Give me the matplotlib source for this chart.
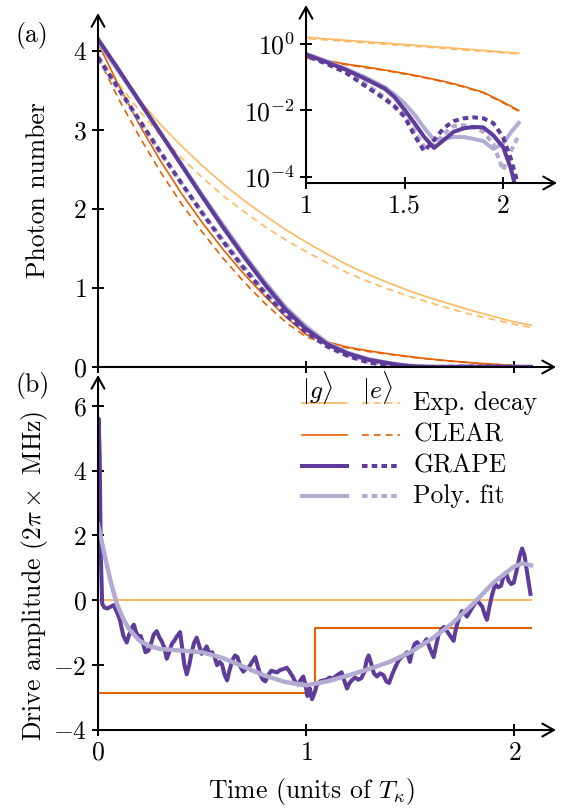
import matplotlib
matplotlib.use("Agg")
import matplotlib.pyplot as plt
from matplotlib.ticker import FixedLocator, NullLocator
from matplotlib.lines import Line2D

# ---- data ----
# photon number, smooth curves (Exp. decay, CLEAR)
t_smooth = [0.0, 0.1, 0.2, 0.3, 0.4, 0.5, 0.6, 0.7, 0.8, 0.9, 1.0,
            1.1, 1.2, 1.3, 1.4, 1.5, 1.6, 1.7, 1.8, 1.9, 2.0, 2.08]
exp_g = [4.10, 3.72, 3.38, 3.07, 2.80, 2.55, 2.32, 2.11, 1.92, 1.74, 1.58,
         1.43, 1.29, 1.17, 1.06, 0.96, 0.87, 0.79, 0.71, 0.64, 0.57, 0.53]
exp_e = [3.95, 3.58, 3.24, 2.93, 2.65, 2.40, 2.17, 1.97, 1.78, 1.61, 1.46,
         1.32, 1.19, 1.08, 0.98, 0.89, 0.81, 0.73, 0.66, 0.60, 0.54, 0.50]
clear_g = [4.10, 3.56, 3.06, 2.61, 2.20, 1.83, 1.49, 1.18, 0.90, 0.64, 0.41,
           0.32, 0.25, 0.205, 0.165, 0.13, 0.10, 0.075, 0.053, 0.035, 0.018, 0.010]
clear_e = [3.92, 3.39, 2.91, 2.47, 2.07, 1.71, 1.38, 1.08, 0.81, 0.57, 0.38,
           0.30, 0.24, 0.195, 0.16, 0.125, 0.097, 0.072, 0.051, 0.034, 0.017, 0.0095]

# photon number, GRAPE and polynomial fit (finer grid near the dips)
t_fine = [0.0, 0.1, 0.2, 0.3, 0.4, 0.5, 0.6, 0.7, 0.8, 0.9, 1.0, 1.1, 1.2, 1.3, 1.4,
          1.45, 1.5, 1.55, 1.6, 1.65, 1.7, 1.75, 1.8, 1.85, 1.9, 1.95, 2.0, 2.04, 2.08]
grape_g = [4.15, 3.76, 3.36, 2.96, 2.56, 2.16, 1.77, 1.40, 1.05, 0.73, 0.48, 0.29, 0.17, 0.09, 0.045,
           0.025, 0.0105, 0.0042, 0.0016, 0.00075, 0.0013, 0.0023, 0.0029, 0.0032, 0.0031,
           0.0018, 0.0008, 0.00018, 0.00002]
grape_e = [3.92, 3.52, 3.12, 2.72, 2.33, 1.95, 1.59, 1.25, 0.94, 0.66, 0.44, 0.26, 0.14, 0.055, 0.022,
           0.013, 0.0065, 0.0018, 0.0006, 0.0013, 0.0030, 0.0048, 0.0058, 0.0062, 0.0058,
           0.0042, 0.0016, 0.00035, 0.00005]
poly_g = [4.12, 3.74, 3.35, 2.96, 2.57, 2.18, 1.80, 1.43, 1.08, 0.76, 0.51, 0.31, 0.18, 0.10, 0.05,
          0.03, 0.0165, 0.0076, 0.003, 0.0013, 0.0014, 0.0016, 0.0016, 0.0014, 0.0012,
          0.0007, 0.001, 0.0022, 0.0042]
poly_e = [3.90, 3.51, 3.11, 2.71, 2.33, 1.96, 1.61, 1.27, 0.96, 0.68, 0.46, 0.28, 0.15, 0.065, 0.025,
          0.014, 0.007, 0.0025, 0.0008, 0.0009, 0.002, 0.0034, 0.0036, 0.0031, 0.0023,
          0.001, 0.00016, 0.0006, 0.0018]

# drive amplitudes
t_exp_drive = [0.0, 2.08]
exp_drive = [0.0, 0.0]
t_clear_drive = [0.0, 1.04, 2.08]
clear_drive = [-2.86, -0.86, -0.86]

t_poly_drive = [0.0, 0.03, 0.06, 0.09, 0.12, 0.15, 0.2, 0.25, 0.3, 0.4, 0.5, 0.6, 0.7, 0.8, 0.9,
                1.0, 1.1, 1.2, 1.3, 1.4, 1.5, 1.6, 1.7, 1.8, 1.9, 2.0, 2.04, 2.08]
poly_drive = [2.35, 1.45, 0.6, -0.1, -0.55, -0.9, -1.25, -1.42, -1.5, -1.55, -1.6, -1.78, -2.05,
              -2.32, -2.52, -2.62, -2.5, -2.32, -2.12, -1.9, -1.6, -1.2, -0.72, -0.12, 0.55,
              1.05, 1.14, 1.08]

t_grape_drive = [
    0.000, 0.003, 0.008, 0.013, 0.020, 0.030, 0.045, 0.060, 0.075, 0.090, 0.105, 0.122, 0.138,
    0.150, 0.162, 0.172, 0.184, 0.194, 0.205, 0.215, 0.228, 0.242, 0.256, 0.268, 0.282, 0.295,
    0.305, 0.318, 0.330, 0.342, 0.354, 0.366, 0.380, 0.394, 0.405, 0.415, 0.426, 0.438, 0.450,
    0.462, 0.474, 0.486, 0.498, 0.510, 0.522, 0.535, 0.548, 0.560, 0.572, 0.584, 0.596, 0.608,
    0.620, 0.632, 0.645, 0.658, 0.670, 0.684, 0.698, 0.712, 0.726, 0.740, 0.755, 0.768, 0.780,
    0.792, 0.804, 0.818, 0.832, 0.846, 0.860, 0.875, 0.890, 0.907, 0.920, 0.935, 0.950, 0.962,
    0.974, 0.986, 0.996, 1.006, 1.016, 1.028, 1.040, 1.052, 1.066, 1.082, 1.098, 1.112, 1.126,
    1.140, 1.155, 1.170, 1.184, 1.196, 1.208, 1.222, 1.236, 1.250, 1.265, 1.280, 1.290, 1.300,
    1.312, 1.325, 1.340, 1.355, 1.370, 1.385, 1.398, 1.412, 1.428, 1.444, 1.458, 1.470, 1.484,
    1.498, 1.508, 1.520, 1.532, 1.548, 1.562, 1.578, 1.595, 1.612, 1.624, 1.636, 1.650, 1.662,
    1.676, 1.692, 1.708, 1.720, 1.734, 1.748, 1.760, 1.772, 1.786, 1.800, 1.820, 1.834, 1.846,
    1.858, 1.868, 1.880, 1.892, 1.908, 1.922, 1.936, 1.950, 1.960, 1.972, 1.985, 1.997, 2.010,
    2.025, 2.037, 2.048, 2.060, 2.077]
grape_drive = [
    2.9, 5.6, 4.5, 1.5, -0.1, -0.22, -0.25, -0.2, -0.15, -0.35, -0.6, -1.1, -1.3,
    -1.05, -0.85, -0.75, -1.0, -1.12, -1.1, -1.3, -1.6, -1.55, -1.3, -1.05, -0.95, -1.15,
    -1.25, -1.45, -1.8, -1.6, -1.35, -1.25, -1.1, -0.98, -1.5, -2.0, -2.28, -2.0, -1.6,
    -1.3, -1.15, -1.4, -1.65, -1.55, -1.42, -1.65, -1.6, -1.75, -2.0, -1.9, -1.98, -2.3,
    -2.47, -2.15, -1.85, -1.7, -1.75, -2.05, -2.2, -2.1, -2.05, -1.9, -1.75, -2.05, -2.3,
    -2.45, -2.5, -2.3, -2.17, -2.2, -2.22, -2.15, -2.12, -2.08, -2.2, -2.35, -2.55, -2.6,
    -2.45, -2.35, -2.6, -2.95, -2.7, -3.05, -2.85, -2.6, -2.5, -2.47, -2.45, -2.38, -2.42,
    -2.35, -2.28, -2.22, -2.5, -2.72, -2.55, -2.45, -2.38, -2.45, -2.4, -2.2, -1.85, -1.7,
    -1.95, -2.25, -2.35, -2.25, -2.3, -2.5, -2.55, -2.3, -2.06, -1.85, -1.75, -1.7, -1.6,
    -1.9, -1.6, -1.35, -1.29, -1.4, -1.35, -1.2, -1.5, -1.75, -1.4, -1.05, -0.9, -0.82,
    -0.95, -1.1, -1.25, -0.85, -0.55, -0.33, -0.4, -0.5, -0.35, -0.2, 0.0, -0.1, -0.2,
    -0.45, -0.6, -0.2, 0.15, 0.5, 0.4, 0.45, 0.8, 0.85, 0.6, 0.5, 0.55, 0.9,
    1.35, 1.6, 1.4, 0.9, 0.2]

legend_labels = ["Exp. decay", "CLEAR", "GRAPE", "Poly. fit"]

# ---- style ----
plt.rcParams.update({
    "font.family": "serif",
    "font.serif": ["cmr10"],
    "mathtext.fontset": "cm",
    "axes.formatter.use_mathtext": True,
    "font.size": 18.5,
    "lines.scale_dashes": False,
})

c_exp = "#fdb863"
c_clear = "#e66101"
c_grape = "#5e3c99"
c_poly = "#b2abd2"

thin = 1.2
thick = 2.9
dash_thin = (5, 3.5)
dash_thick = (4, 3)


def arrow_axes(ax):
    """Replace spines by arrows, put ticks across the axes"""
    for s in ax.spines.values():
        s.set_visible(False)
    arrow = dict(arrowstyle="->,head_length=0.45,head_width=0.25", lw=1.5, color="k",
                 shrinkA=0, shrinkB=0)
    ax.annotate("", xy=(1, 0), xytext=(0, 0), xycoords="axes fraction", arrowprops=arrow)
    ax.annotate("", xy=(0, 1), xytext=(0, 0), xycoords="axes fraction", arrowprops=arrow)
    ax.tick_params(direction="inout", length=8, width=1.4, color="k", pad=4)
    ax.set_facecolor("none")


fig = plt.figure(figsize=(5.62, 8.08), dpi=100)

# ---- (a) photon number ----
ax_a = fig.add_axes([0.1744, 0.5458, 0.815, 0.438])
ax_a.plot(t_smooth, exp_g, color=c_exp, lw=thin)
ax_a.plot(t_smooth, exp_e, color=c_exp, lw=thin, dashes=dash_thin)
ax_a.plot(t_smooth, clear_g, color=c_clear, lw=thin)
ax_a.plot(t_smooth, clear_e, color=c_clear, lw=thin, dashes=dash_thin)
ax_a.plot(t_fine, poly_g, color=c_poly, lw=thick)
ax_a.plot(t_fine, poly_e, color=c_poly, lw=thick, dashes=dash_thick)
ax_a.plot(t_fine, grape_g, color=c_grape, lw=thick)
ax_a.plot(t_fine, grape_e, color=c_grape, lw=thick, dashes=dash_thick)
ax_a.set_xlim(0, 2.2)
ax_a.set_ylim(0, 4.48)
ax_a.set_xticks([0, 1, 2])
ax_a.set_xticklabels([])
ax_a.set_yticks([0, 1, 2, 3, 4])
ax_a.set_ylabel("Photon number")
ax_a.yaxis.set_label_coords(-0.105, 0.5)
arrow_axes(ax_a)

# inset, log scale
ax_in = fig.add_axes([0.5445, 0.7735, 0.4466, 0.2203])
ax_in.set_yscale("log")
ax_in.plot(t_smooth, exp_g, color=c_exp, lw=thin)
ax_in.plot(t_smooth, exp_e, color=c_exp, lw=thin, dashes=dash_thin)
ax_in.plot(t_smooth, clear_g, color=c_clear, lw=thin)
ax_in.plot(t_smooth, clear_e, color=c_clear, lw=thin, dashes=dash_thin)
ax_in.plot(t_fine, poly_g, color=c_poly, lw=thick)
ax_in.plot(t_fine, poly_e, color=c_poly, lw=thick, dashes=dash_thick)
ax_in.plot(t_fine, grape_g, color=c_grape, lw=thick)
ax_in.plot(t_fine, grape_e, color=c_grape, lw=thick, dashes=dash_thick)
ax_in.set_xlim(1, 2.274)
ax_in.set_ylim(10 ** -4.18, 10 ** 1.17)
ax_in.set_xticks([1, 1.5, 2])
ax_in.set_xticklabels(["1", "1.5", "2"])
ax_in.yaxis.set_major_locator(FixedLocator([1, 1e-2, 1e-4]))
ax_in.yaxis.set_minor_locator(NullLocator())
arrow_axes(ax_in)

# ---- (b) drive amplitude ----
ax_b = fig.add_axes([0.1744, 0.0965, 0.815, 0.4394])
ax_b.plot(t_clear_drive, clear_drive, color=c_clear, lw=thin + 0.3, drawstyle="steps-post")
ax_b.plot(t_exp_drive, exp_drive, color=c_exp, lw=thin + 0.3)
ax_b.plot(t_grape_drive, grape_drive, color=c_grape, lw=thick)
ax_b.plot(t_poly_drive, poly_drive, color=c_poly, lw=thick + 0.3)
ax_b.set_xlim(0, 2.2)
ax_b.set_ylim(-4, 6.95)
ax_b.set_xticks([0, 1, 2])
ax_b.set_yticks([-4, -2, 0, 2, 4, 6])
ax_b.set_ylabel(r"Drive amplitude ($2\pi\times$ MHz)")
ax_b.yaxis.set_label_coords(-0.105, 0.435)
ax_b.set_xlabel(r"Time (units of $T_\kappa$)")
ax_b.xaxis.set_label_coords(0.467, -0.13)
arrow_axes(ax_b)

# legend drawn by hand: solid = |g>, dashed = |e>
colors = [c_exp, c_clear, c_grape, c_poly]
widths = [thin, thin, thick, thick]
dashes = [dash_thin, dash_thin, dash_thick, dash_thick]
rows_y = [0.921, 0.831, 0.744, 0.659]
ax_b.text(0.48, 0.963, r"$|g\rangle$", transform=ax_b.transAxes, ha="center", va="center")
ax_b.text(0.609, 0.963, r"$|e\rangle$", transform=ax_b.transAxes, ha="center", va="center")
for lab, col, lw, ds, y in zip(legend_labels, colors, widths, dashes, rows_y):
    ax_b.add_line(Line2D([0.445, 0.544], [y, y], transform=ax_b.transAxes, color=col, lw=lw))
    ax_b.add_line(Line2D([0.576, 0.659], [y, y], transform=ax_b.transAxes, color=col, lw=lw,
                         dashes=ds))
    ax_b.text(0.688, y, lab, transform=ax_b.transAxes, ha="left", va="center")

fig.text(15 / 562, 1 - 22 / 808, "(a)", ha="left", va="top")
fig.text(15 / 562, 1 - 372 / 808, "(b)", ha="left", va="top")

fig.savefig("out.png", dpi=100)
